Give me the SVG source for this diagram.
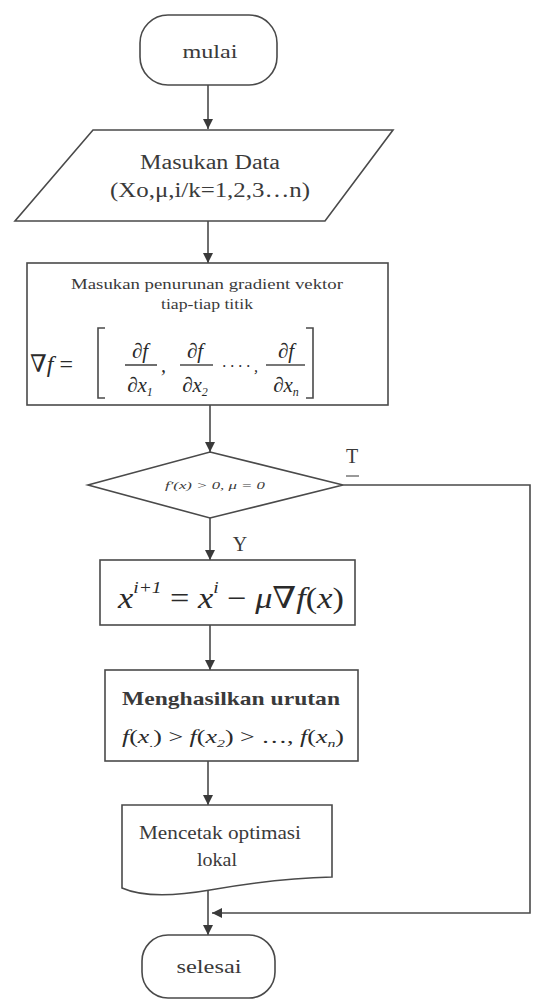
<svg xmlns="http://www.w3.org/2000/svg" width="533" height="1003" viewBox="0 0 533 1003">
<defs>
<marker id="arr" viewBox="0 0 10 10" refX="10" refY="5" markerWidth="10" markerHeight="10" markerUnits="userSpaceOnUse" orient="auto">
<path d="M0,0 L10,5 L0,10 Z" fill="#3a3a3a"/>
</marker>
<style>
.s{fill:#fff;stroke:#4a4a4a;stroke-width:1.6}
.c{fill:none;stroke:#4a4a4a;stroke-width:1.6}
.t{font-family:"Liberation Serif","Times New Roman",serif;fill:#3a3a3a;text-anchor:middle}
.m{font-family:"Liberation Serif","DejaVu Serif","Times New Roman",serif;fill:#2a2a2a;font-style:italic}
</style>
</defs>
<rect width="533" height="1003" fill="#fff"/>
<g id="connectors">
<line class="c" x1="208" y1="85" x2="208" y2="129" marker-end="url(#arr)"/>
<line class="c" x1="208" y1="221" x2="208" y2="263" marker-end="url(#arr)"/>
<line class="c" x1="210" y1="405" x2="210" y2="452" marker-end="url(#arr)"/>
<line class="c" x1="210" y1="518" x2="210" y2="560" marker-end="url(#arr)"/>
<line class="c" x1="210" y1="625" x2="210" y2="670" marker-end="url(#arr)"/>
<line class="c" x1="208" y1="761" x2="208" y2="805" marker-end="url(#arr)"/>
<line class="c" x1="208" y1="890" x2="208" y2="935" marker-end="url(#arr)"/>
<polyline class="c" points="343,485 530,485 530,913 212,913" marker-end="url(#arr)"/>
<text class="t" x="352" y="463" font-size="20">T</text>
<line x1="346" y1="476" x2="359" y2="476" stroke="#777" stroke-width="1.5"/>
<text class="t" x="240" y="551" font-size="20">Y</text>
<line x1="232" y1="566" x2="246" y2="566" stroke="#888" stroke-width="1.2"/>
</g>
<g id="mulai">
<rect class="s" x="140" y="15" width="137" height="70" rx="28"/>
<text class="t" x="210" y="58" font-size="19" textLength="55" lengthAdjust="spacingAndGlyphs">mulai</text>
</g>
<g id="input">
<polygon class="s" points="93,130 393,130 325,221 15,221"/>
<text class="t" x="210" y="169" font-size="20" textLength="140" lengthAdjust="spacingAndGlyphs">Masukan Data</text>
<text class="t" x="210" y="197" font-size="20" textLength="200" lengthAdjust="spacingAndGlyphs">(Xo,μ,i/k=1,2,3…n)</text>
</g>
<g id="gradient">
<rect class="s" x="27" y="263" width="361" height="142"/>
<text class="t" x="207" y="289" font-size="14" textLength="272" lengthAdjust="spacingAndGlyphs">Masukan penurunan gradient vektor</text>
<text class="t" x="207" y="309" font-size="14" textLength="92" lengthAdjust="spacingAndGlyphs">tiap-tiap titik</text>
<text class="m" x="30" y="372" font-size="24"><tspan font-style="normal">∇</tspan>f<tspan font-style="normal"> =</tspan></text>
<polyline class="c" points="105,328 98,328 98,398 105,398"/>
<polyline class="c" points="306,328 313,328 313,398 306,398"/>
<text class="m" x="140" y="358" font-size="21" text-anchor="middle">∂f</text>
<line class="c" x1="125" y1="365" x2="157" y2="365" stroke-width="1"/>
<text class="m" x="140" y="392" font-size="21" text-anchor="middle">∂x<tspan font-size="12" dy="4">1</tspan></text>
<text class="m" x="161" y="372" font-size="20">,</text>
<text class="m" x="195" y="358" font-size="21" text-anchor="middle">∂f</text>
<line class="c" x1="180" y1="365" x2="213" y2="365" stroke-width="1"/>
<text class="m" x="195" y="392" font-size="21" text-anchor="middle">∂x<tspan font-size="12" dy="4">2</tspan></text>
<text class="m" x="222" y="372" font-size="16">· · · · ,</text>
<text class="m" x="286" y="358" font-size="21" text-anchor="middle">∂f</text>
<line class="c" x1="266" y1="365" x2="305" y2="365" stroke-width="1"/>
<text class="m" x="286" y="392" font-size="21" text-anchor="middle">∂x<tspan font-size="12" dy="4">n</tspan></text>
</g>
<g id="decision">
<polygon class="s" points="210,452 343,485 210,518 88,485"/>
<text class="t" x="215" y="489" font-size="11" font-style="italic" textLength="100" lengthAdjust="spacingAndGlyphs">f′(x) &gt; 0, μ = 0</text>
</g>
<g id="update">
<rect class="s" x="100" y="560" width="255" height="65"/>
<text class="m" x="118" y="608" font-size="30" textLength="226" lengthAdjust="spacingAndGlyphs">x<tspan font-size="17" dy="-15">i+1</tspan><tspan dy="15" font-style="normal"> = </tspan>x<tspan font-size="17" dy="-15">i</tspan><tspan dy="15" font-style="normal"> − </tspan>μ<tspan font-style="normal">∇</tspan>f<tspan font-style="normal">(</tspan>x<tspan font-style="normal">)</tspan></text>
</g>
<g id="sequence">
<rect class="s" x="105" y="670" width="253" height="91"/>
<text class="t" x="231" y="705" font-size="19" font-weight="bold" textLength="218" lengthAdjust="spacingAndGlyphs">Menghasilkan urutan</text>
<text class="m" x="122" y="743" font-size="18" textLength="222" lengthAdjust="spacingAndGlyphs">f<tspan font-style="normal">(</tspan>x<tspan font-size="11" dy="4">.</tspan><tspan dy="-4" font-style="normal">) &gt; </tspan>f<tspan font-style="normal">(</tspan>x<tspan font-size="11" dy="4">2</tspan><tspan dy="-4" font-style="normal">) &gt; …, </tspan>f<tspan font-style="normal">(</tspan>x<tspan font-size="11" dy="4">n</tspan><tspan dy="-4" font-style="normal">)</tspan></text>
</g>
<g id="output">
<path class="s" d="M122,805 H332 V877 C290,878 250,883 210,890 C170,897 140,896 122,888 Z"/>
<text class="t" x="220" y="839" font-size="18" textLength="162" lengthAdjust="spacingAndGlyphs">Mencetak optimasi</text>
<text class="t" x="217" y="866" font-size="18" textLength="40" lengthAdjust="spacingAndGlyphs">lokal</text>
</g>
<g id="selesai">
<rect class="s" x="142" y="935" width="133" height="63" rx="26"/>
<text class="t" x="209" y="973" font-size="19" textLength="65" lengthAdjust="spacingAndGlyphs">selesai</text>
</g>
</svg>
